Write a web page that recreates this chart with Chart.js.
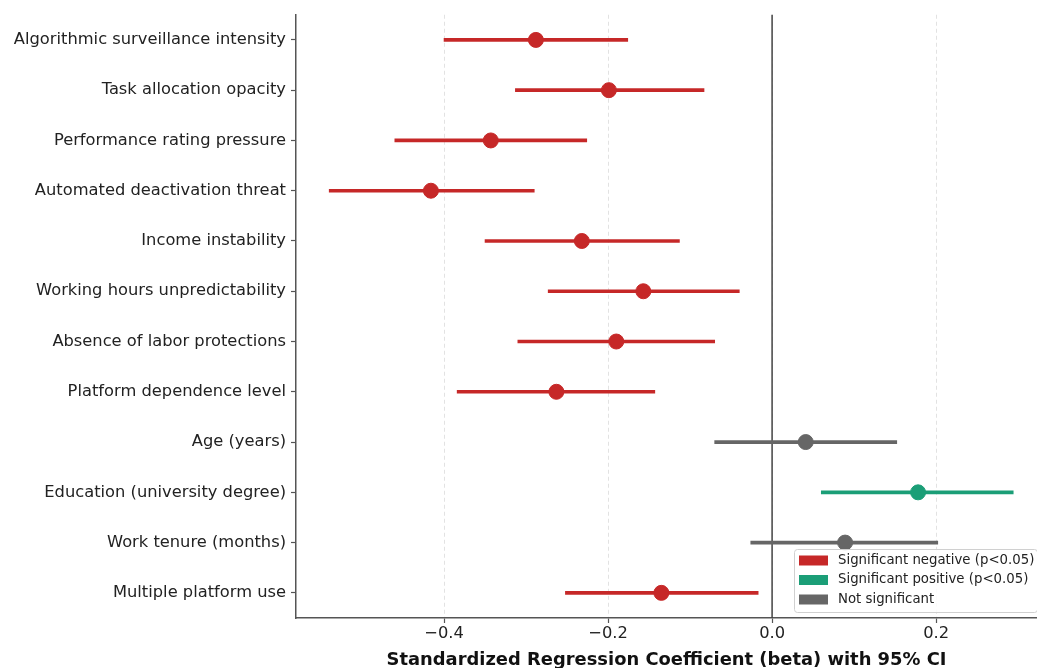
<!DOCTYPE html>
<html>
<head>
<meta charset="utf-8">
<script src="https://cdn.jsdelivr.net/npm/chart.js@4"></script>
<style>
    html, body { margin: 0; padding: 0; background: #ffffff; }
    #wrap { width: 1037px; height: 668px; }
</style>
</head>
<body>
<div id="wrap"><canvas id="forest"></canvas></div>
<script>
// Predictors, top to bottom
var predictors = [
    "Algorithmic surveillance intensity",
    "Task allocation opacity",
    "Performance rating pressure",
    "Automated deactivation threat",
    "Income instability",
    "Working hours unpredictability",
    "Absence of labor protections",
    "Platform dependence level",
    "Age (years)",
    "Education (university degree)",
    "Work tenure (months)",
    "Multiple platform use"
];
var beta = [-0.288, -0.199, -0.343, -0.416, -0.232, -0.157, -0.190, -0.263, 0.041, 0.178, 0.089, -0.135];
var ciLow = [-0.400, -0.313, -0.460, -0.540, -0.350, -0.273, -0.310, -0.384, -0.070, 0.060, -0.026, -0.252];
var ciHigh = [-0.176, -0.083, -0.226, -0.290, -0.113, -0.040, -0.070, -0.143, 0.152, 0.294, 0.202, -0.017];
var significance = ["neg", "neg", "neg", "neg", "neg", "neg", "neg", "neg", "ns", "pos", "ns", "neg"];
var xTicks = [-0.4, -0.2, 0.0, 0.2];

var sigColor = { neg: "#c62828", pos: "#1b9e77", ns: "#666666" };
var legendItems = [
    { text: "Significant negative (p<0.05)", color: sigColor.neg },
    { text: "Significant positive (p<0.05)", color: sigColor.pos },
    { text: "Not significant", color: sigColor.ns }
];

var colors = significance.map(function (s) { return sigColor[s]; });
var ciData = ciLow.map(function (lo, i) { return [lo, ciHigh[i]]; });
var pointData = beta.map(function (b, i) { return { x: b, y: predictors[i] }; });

var FONT = "'DejaVu Sans', sans-serif";

// Vertical reference line at zero
var zeroLine = {
    id: "zeroLine",
    beforeDatasetsDraw: function (chart) {
        var x = chart.scales.x.getPixelForValue(0);
        var area = chart.chartArea;
        var ctx = chart.ctx;
        ctx.save();
        ctx.strokeStyle = "#444444";
        ctx.lineWidth = 1.5;
        ctx.beginPath();
        ctx.moveTo(x, area.top);
        ctx.lineTo(x, area.bottom);
        ctx.stroke();
        ctx.restore();
    }
};

// Legend box inside the plot, lower right
var boxLegend = {
    id: "boxLegend",
    afterDraw: function (chart) {
        var ctx = chart.ctx;
        var area = chart.chartArea;
        var w = 243, h = 63;
        var x0 = area.right - w;
        var y0 = area.bottom - h - 6;
        ctx.save();
        ctx.fillStyle = "rgba(255,255,255,0.85)";
        ctx.strokeStyle = "#d0d0d0";
        ctx.lineWidth = 1;
        ctx.beginPath();
        ctx.roundRect(x0 + 0.5, y0 + 0.5, w, h, 3);
        ctx.fill();
        ctx.stroke();
        ctx.font = "13.3px " + FONT;
        ctx.textBaseline = "middle";
        legendItems.forEach(function (item, i) {
            var y = y0 + 11.5 + i * 19.5;
            ctx.fillStyle = item.color;
            ctx.fillRect(x0 + 5, y - 5, 29, 10);
            ctx.fillStyle = "#222222";
            ctx.fillText(item.text, x0 + 44, y);
        });
        ctx.restore();
    }
};

new Chart(document.getElementById("forest"), {
    type: "bar",
    data: {
        labels: predictors,
        datasets: [
            {
                // 95% confidence intervals
                data: ciData,
                backgroundColor: colors,
                borderWidth: 0,
                barThickness: 3,
                order: 2
            },
            {
                type: "scatter",
                data: pointData,
                backgroundColor: colors,
                borderColor: colors,
                pointRadius: 7.5,
                pointHoverRadius: 7.5,
                order: 1
            }
        ]
    },
    options: {
        indexAxis: "y",
        responsive: true,
        maintainAspectRatio: false,
        animation: false,
        layout: { autoPadding: false, padding: { top: 12, right: 0, bottom: 0, left: 0 } },
        plugins: {
            legend: { display: false },
            tooltip: { enabled: false }
        },
        scales: {
            x: {
                type: "linear",
                min: -0.5805,
                max: 0.323,
                afterBuildTicks: function (scale) {
                    scale.ticks = xTicks.map(function (v) { return { value: v }; });
                },
                afterFit: function (scale) { scale.height = 50; },
                ticks: {
                    color: "#222222",
                    font: { family: FONT, size: 16.3 },
                    padding: 1,
                    maxRotation: 0,
                    callback: function (v) {
                        return v < 0 ? "\u2212" + Math.abs(v).toFixed(1) : v.toFixed(1);
                    }
                },
                grid: {
                    color: "#e2e2e2",
                    lineWidth: 1,
                    tickColor: "#555555",
                    tickLength: 5,
                    tickWidth: 1.2
                },
                border: { display: true, color: "#555555", width: 1.5, dash: [4, 3] },
                title: {
                    display: true,
                    text: "Standardized Regression Coefficient (beta) with 95% CI",
                    color: "#111111",
                    font: { family: FONT, size: 17.9, weight: "bold" },
                    padding: { top: 0, bottom: -3 }
                }
            },
            y: {
                type: "category",
                offset: true,
                afterFit: function (scale) { scale.width = 296; },
                ticks: {
                    color: "#222222",
                    font: { family: FONT, size: 16.3 },
                    padding: 5
                },
                grid: {
                    offset: false,
                    drawOnChartArea: false,
                    tickColor: "#555555",
                    tickLength: 5,
                    tickWidth: 1.2
                },
                border: { display: true, color: "#555555", width: 1.5 }
            }
        }
    },
    plugins: [zeroLine, boxLegend]
});
</script>
</body>
</html>
